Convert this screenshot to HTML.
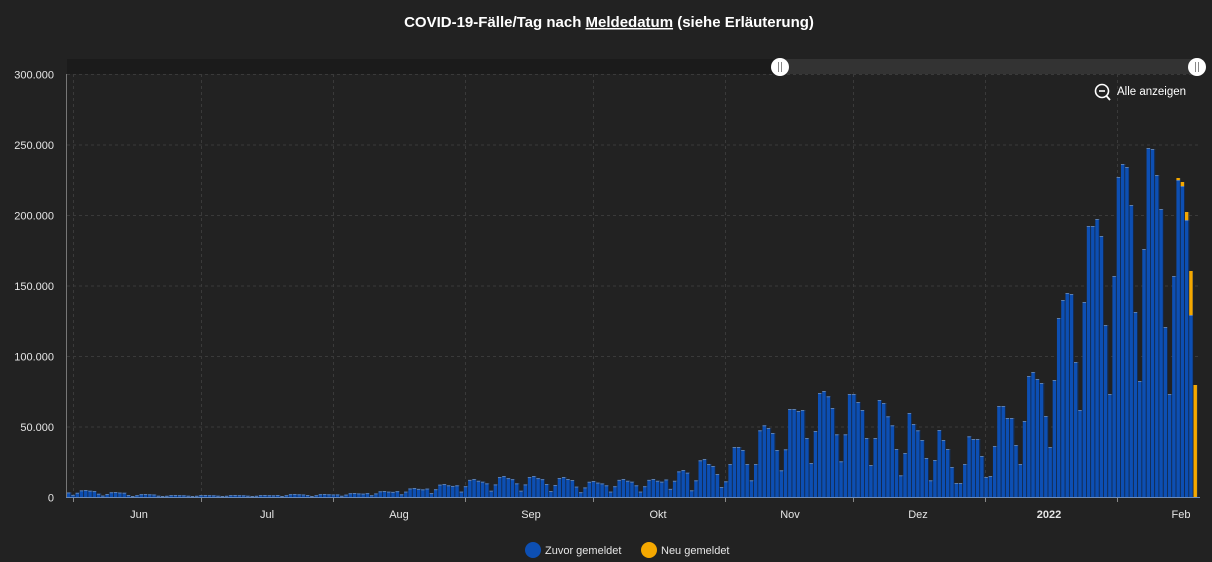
<!DOCTYPE html>
<html><head><meta charset="utf-8"><style>
html,body{margin:0;padding:0;background:#222;}
body{width:1212px;height:562px;overflow:hidden;font-family:"Liberation Sans",sans-serif;}
</style></head><body>
<svg id="s" width="1212" height="562" xmlns="http://www.w3.org/2000/svg" style="display:block">
<rect width="1212" height="562" fill="#222"/>
<text x="609" y="27" text-anchor="middle" fill="#fff" font-size="15" font-weight="bold" font-family="Liberation Sans, sans-serif">COVID-19-Fälle/Tag nach <tspan text-decoration="underline">Meldedatum</tspan> (siehe Erläuterung)</text>
<rect x="67" y="59" width="1136" height="15" fill="#1b1b1b"/>
<rect x="780" y="59" width="417" height="15" fill="#333"/>
<g id="grid"></g>
<g id="bars"></g>
<line x1="66.5" y1="74" x2="66.5" y2="497" stroke="#777" stroke-width="1"/>
<line x1="66" y1="497.5" x2="1200" y2="497.5" stroke="#6a8ab8" stroke-width="1"/>
<circle cx="780" cy="67" r="9" fill="#fff"/><line x1="778.5" y1="62" x2="778.5" y2="72" stroke="#888"/><line x1="781.5" y1="62" x2="781.5" y2="72" stroke="#888"/>
<circle cx="1197" cy="67" r="9" fill="#fff"/><line x1="1195.5" y1="62" x2="1195.5" y2="72" stroke="#888"/><line x1="1198.5" y1="62" x2="1198.5" y2="72" stroke="#888"/>
<circle cx="1102" cy="91" r="6.5" fill="none" stroke="#fff" stroke-width="1.6"/><line x1="1099" y1="91" x2="1105" y2="91" stroke="#fff" stroke-width="1.6"/><line x1="1106.5" y1="96" x2="1110" y2="100" stroke="#fff" stroke-width="1.8"/>
<text x="1117" y="95" fill="#fff" font-size="11.5" font-family="Liberation Sans, sans-serif">Alle anzeigen</text>
<g id="lab" fill="#e6e6e6" font-size="11" font-family="Liberation Sans, sans-serif"></g>
<circle cx="533" cy="550" r="8" fill="#0d4fb3"/>
<text x="545" y="554" fill="#e6e6e6" font-size="11" font-family="Liberation Sans, sans-serif">Zuvor gemeldet</text>
<circle cx="649" cy="550" r="8" fill="#f5a800"/>
<text x="661" y="554" fill="#e6e6e6" font-size="11" font-family="Liberation Sans, sans-serif">Neu gemeldet</text>
</svg>
<script>
var NS="http://www.w3.org/2000/svg";
function el(p,t,a,txt){var e=document.createElementNS(NS,t);for(var k in a)e.setAttribute(k,a[k]);if(txt)e.textContent=txt;p.appendChild(e);return e;}
var grid=document.getElementById('grid'),lab=document.getElementById('lab'),bars=document.getElementById('bars');
var yl=["0","50.000","100.000","150.000","200.000","250.000","300.000"];
for(var i=0;i<7;i++){var y=497.5-i*70.5;
 if(i>0)el(grid,'line',{x1:67,x2:1200,y1:y,y2:y,stroke:'#3a3a3a','stroke-dasharray':'3,3'});
 el(lab,'text',{x:54,y:y+4,'text-anchor':'end'},yl[i]);}
var gx=[73,201,333,465,593,725,853,985,1117];
gx.forEach(function(x){el(grid,'line',{x1:x+.5,x2:x+.5,y1:74,y2:497,stroke:'#3a3a3a','stroke-dasharray':'3,3'});
 el(grid,'line',{x1:x+.5,x2:x+.5,y1:497,y2:502,stroke:'#888'});});
var ml=[["Jun",139],["Jul",267],["Aug",399],["Sep",531],["Okt",658],["Nov",790],["Dez",918],["2022",1049],["Feb",1181]];
ml.forEach(function(m){var t=el(lab,'text',{x:m[1],y:518,'text-anchor':'middle'},m[0]);if(m[0]=="2022")t.setAttribute('font-weight','bold');});
var peaks=[7,5,3,2,2,2,2,3,3,4,6,9,13,18,21,21,20,16,18,18,27,30];
var pat=[0.3,0.6,0.95,1.0,0.9,0.85,0.65];
var H=[];
for(var i=0;i<146;i++){var w=Math.floor(i/7);var p=((i-1)%7+7)%7;H.push([Math.max(1,peaks[w]*pat[p]),0]);}
var z3=[6.7,16.7,36.7,38,33,31,23,10,15.7,33,50,50,47,33,16.7,33,66.7,71.7,69,64,47,26.7,47.7,88,88,86,87,59,34,66,104,106,100.7,89,62.7,35.7,62.7,103,103,95,87,59,32,59,97,94,80.7,71.7,48,21.7,44,84,73,66.7,57,39,16.7,37,67,57,48,30,14,14,33,60.7,58,58];
z3.forEach(function(v){H.push([v,0]);});
var z1=[41,20,21,51,91,91,79,79,52,33,76,121,125,118,114,81,50,117,179,197,204,203,135,87,195,271,271,278,261,172,103,221,320,333,330,292,185,116,248,349,348,322,288,170,103,221];
z1.forEach(function(v){H.push([v,0]);});
H.push([317,2],[311,4],[277,8],[182,44],[0,112]);
var bw=4.267,x0=67;
H.forEach(function(h,i){var x=x0+i*bw;var b=h[0],o=h[1];
 if(b>0){el(bars,'rect',{x:x,y:497-b,width:bw,height:b,fill:'#0d4fb3'});
  el(bars,'rect',{x:x,y:497-b,width:bw,height:1,fill:'#5c7fb0'});}
 if(o>0)el(bars,'rect',{x:x,y:497-b-o,width:bw,height:o,fill:'#f5a800'});
 el(bars,'rect',{x:x+bw-0.8,y:497-b-o,width:0.8,height:b+o,fill:'#15233a'});
});
</script>
</body></html>
